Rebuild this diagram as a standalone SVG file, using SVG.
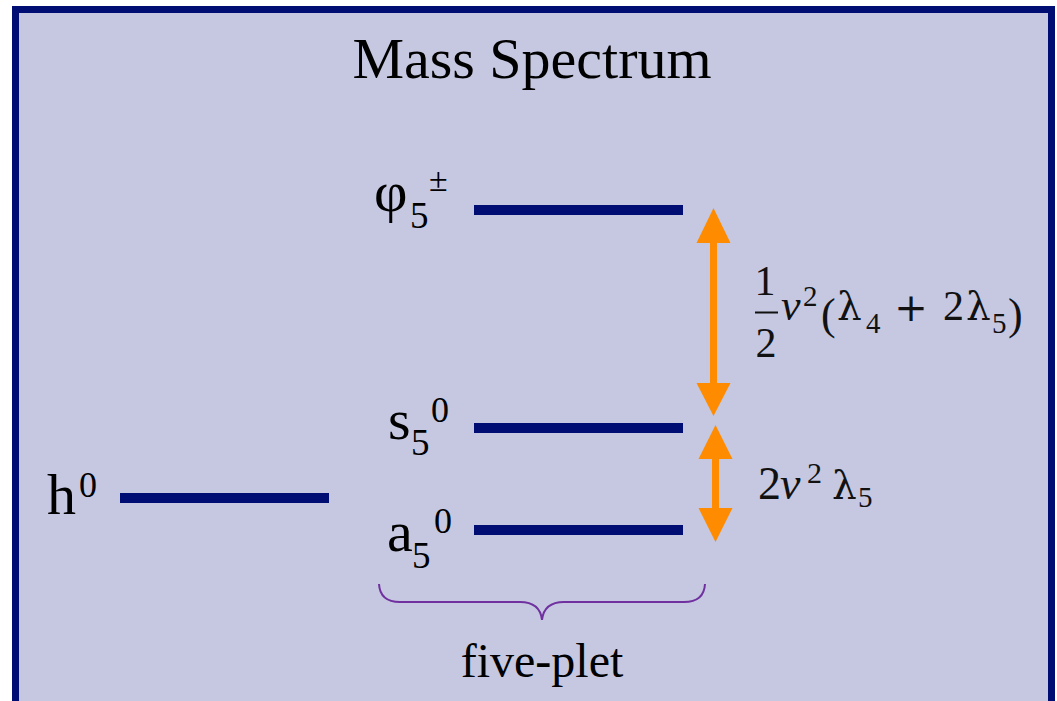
<svg xmlns="http://www.w3.org/2000/svg" width="1057" height="701" viewBox="0 0 1057 701">
<style>
.m{fill:#111}
.g{font-family:"DejaVu Serif",serif}
.lvl{fill:#000e73}
.arr{fill:#ff8c00}
</style>
<rect x="0" y="0" width="1057" height="701" fill="#ffffff"/>
<rect x="15.5" y="9.5" width="1036" height="720" fill="#c5c8e0" stroke="#000e73" stroke-width="7"/>
<g font-family="Liberation Serif, Times New Roman, serif" fill="#000">
<text x="532" y="78" font-size="58" text-anchor="middle">Mass Spectrum</text>

<g id="h0">
<rect class="lvl" x="120" y="493" width="209" height="10"/>
<text x="47" y="514" font-size="58">h</text>
<text x="79" y="497" font-size="36">0</text>
</g>
<g id="phi5">
<rect class="lvl" x="474" y="205" width="209" height="10"/>
<text x="374" y="211" font-size="58">φ</text>
<text x="410" y="228" font-size="37">5</text>
<text x="429" y="191" font-size="34">±</text>
</g>
<g id="s5">
<rect class="lvl" x="474" y="423" width="209" height="10"/>
<text x="388" y="439" font-size="58">s</text>
<text x="411" y="455" font-size="37">5</text>
<text x="431" y="422" font-size="36">0</text>
</g>
<g id="a5">
<rect class="lvl" x="474" y="525" width="209" height="10"/>
<text x="387" y="551" font-size="58">a</text>
<text x="412" y="568" font-size="37">5</text>
<text x="434" y="533" font-size="36">0</text>
</g>

<g id="connectors">
<path class="arr" d="M713.5,208 L730.5,243 L717,243 L717,383 L730.5,383 L713.5,416 L696.5,383 L710,383 L710,243 L696.5,243 Z"/>
<path class="arr" d="M715.5,425 L732.5,459 L719,459 L719,508 L732.5,508 L715.5,542 L698.5,508 L712,508 L712,459 L698.5,459 Z"/>
<path d="M379,584 Q380,602 400,602 L520,602 Q540,602 542,620 Q544,602 564,602 L684,602 Q704,602 705,584" fill="none" stroke="#7030a0" stroke-width="2"/>
</g>

<g id="label-big">
<text class="m" x="765" y="295" font-size="42" text-anchor="middle">1</text>
<rect x="755" y="311.5" width="23" height="2" fill="#111"/>
<text class="m" x="766" y="357" font-size="42" text-anchor="middle">2</text>
<text class="m" x="781" y="320" font-size="44" font-style="italic">v</text>
<text class="m" x="803" y="306" font-size="29">2</text>
<text class="m" x="821" y="329" font-size="44">(</text>
<text class="m g" x="837" y="320" font-size="39">λ</text>
<text class="m" x="866" y="333" font-size="29">4</text>
<text class="m" x="911" y="321" font-size="40" text-anchor="middle" font-family="DejaVu Serif">+</text>
<text class="m" x="943" y="320" font-size="42">2</text>
<text class="m g" x="966" y="320" font-size="39">λ</text>
<text class="m" x="992" y="333" font-size="29">5</text>
<text class="m" x="1008" y="329" font-size="44">)</text>
</g>
<g id="label-small">
<text class="m" x="758" y="499" font-size="46">2</text>
<text class="m" x="780" y="499" font-size="46" font-style="italic">v</text>
<text class="m" x="807" y="483" font-size="30">2</text>
<text class="m g" x="832" y="499" font-size="39">λ</text>
<text class="m" x="858" y="507" font-size="29">5</text>
</g>
<g id="five-plet">
<text x="542" y="677" font-size="48" text-anchor="middle">five-plet</text>
</g>
</g>
</svg>
